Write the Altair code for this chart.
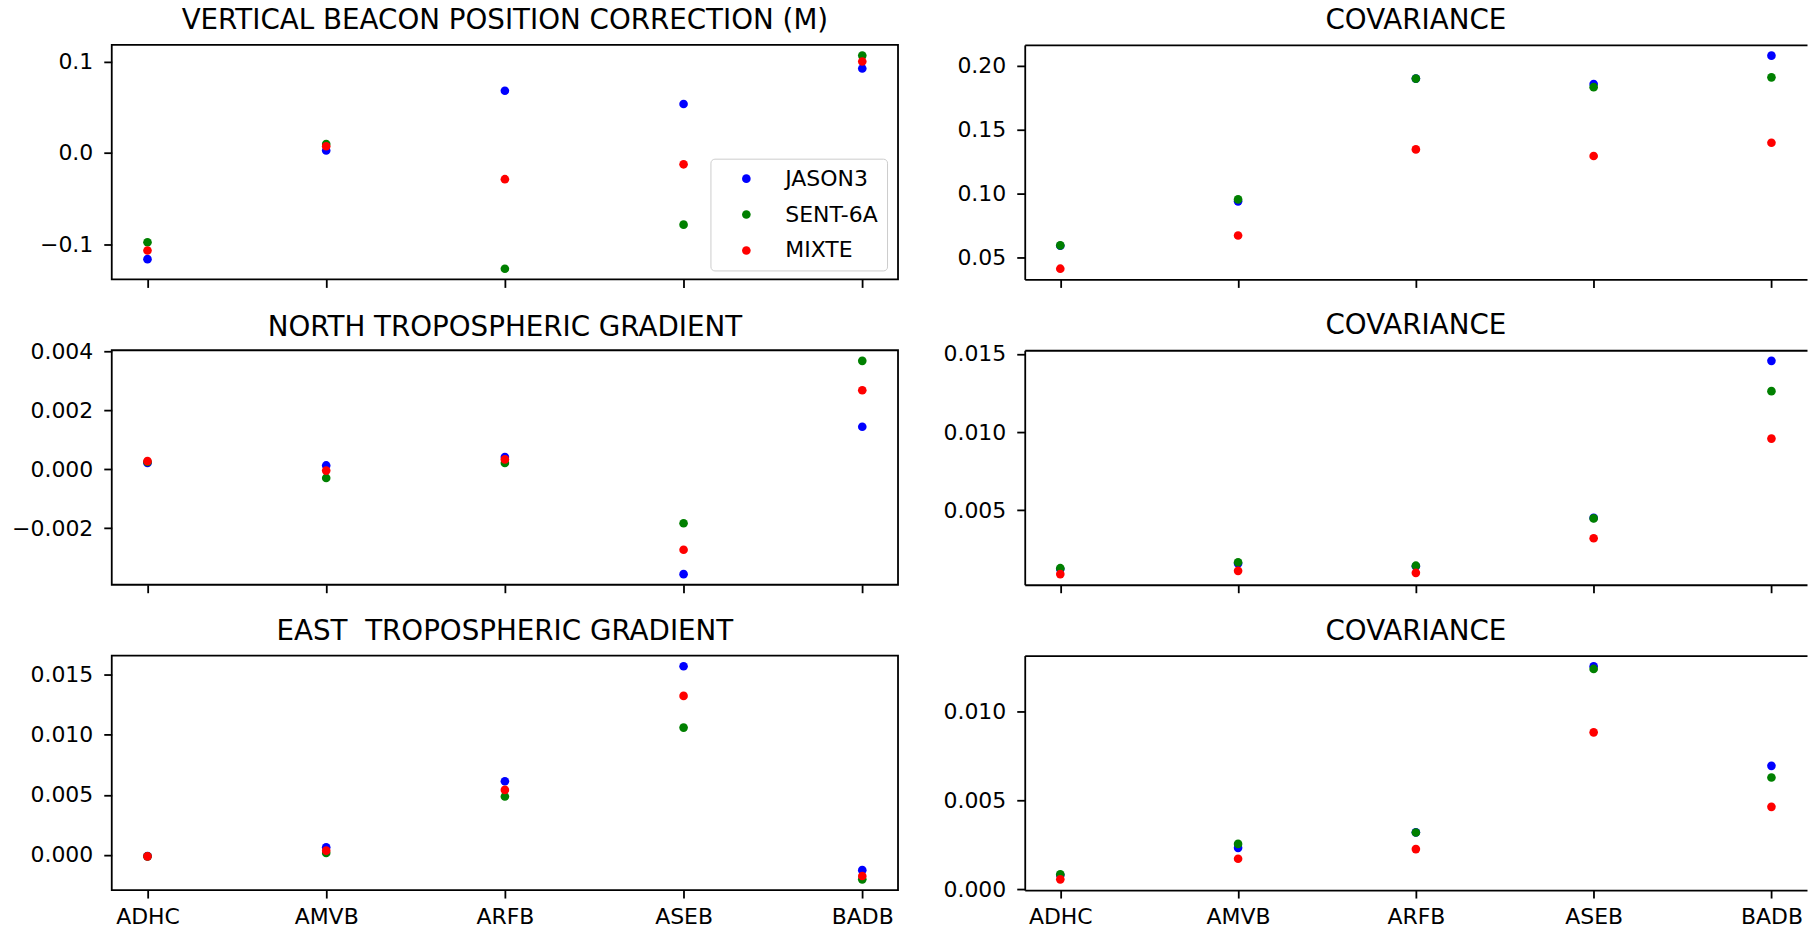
import altair as alt
import pandas as pd

FONT = "DejaVu Sans"

stations = ["ADHC", "AMVB", "ARFB", "ASEB", "BADB"]
series = ["JASON3", "SENT-6A", "MIXTE"]
colors = ["#0000ff", "#008000", "#ff0000"]

titles = [
    "VERTICAL BEACON POSITION CORRECTION (M)",
    "COVARIANCE",
    "NORTH TROPOSPHERIC GRADIENT",
    "COVARIANCE",
    "EAST\u00a0 TROPOSPHERIC GRADIENT",
    "COVARIANCE",
]

# panel 1: vertical beacon position correction
vert_jason3 = [-0.1165, 0.0025, 0.068, 0.0535, 0.0924]
vert_sent6a = [-0.098, 0.0097, -0.127, -0.0787, 0.1065]
vert_mixte = [-0.107, 0.0072, -0.0289, -0.0126, 0.100]
# panel 2: covariance of vertical
vcov_jason3 = [0.059, 0.0938, 0.190, 0.1858, 0.208]
vcov_sent6a = [0.0593, 0.0953, 0.190, 0.1833, 0.191]
vcov_mixte = [0.041, 0.067, 0.1345, 0.1293, 0.1397]
# panel 3: north tropospheric gradient
north_jason3 = [0.00022, 0.000135, 0.00042, -0.00356, 0.00145]
north_sent6a = [0.00025, -0.00029, 0.00022, -0.00183, 0.00369]
north_mixte = [0.00028, -0.00004, 0.00034, -0.00273, 0.00269]
# panel 4: covariance of north gradient
ncov_jason3 = [0.00122, 0.00158, 0.0014, 0.0045, 0.01456]
ncov_sent6a = [0.00128, 0.00166, 0.00144, 0.00447, 0.01262]
ncov_mixte = [0.00090, 0.00111, 0.00098, 0.0032, 0.00958]
# panel 5: east tropospheric gradient
east_jason3 = [-0.0001, 0.00063, 0.00613, 0.01571, -0.00127]
east_sent6a = [-0.00012, 0.00016, 0.00486, 0.0106, -0.00204]
east_mixte = [-0.00012, 0.00035, 0.00541, 0.01324, -0.00176]
# panel 6: covariance of east gradient
ecov_jason3 = [0.0008, 0.00233, 0.0032, 0.01252, 0.00693]
ecov_sent6a = [0.00085, 0.00255, 0.00319, 0.01237, 0.00628]
ecov_mixte = [0.00056, 0.00172, 0.00226, 0.00881, 0.00463]

panel_series = [
    [vert_jason3, vert_sent6a, vert_mixte],
    [vcov_jason3, vcov_sent6a, vcov_mixte],
    [north_jason3, north_sent6a, north_mixte],
    [ncov_jason3, ncov_sent6a, ncov_mixte],
    [east_jason3, east_sent6a, east_mixte],
    [ecov_jason3, ecov_sent6a, ecov_mixte],
]

y_domains = [
    [-0.1387, 0.1182],
    [0.0326, 0.2164],
    [-0.00392, 0.00405],
    [0.00022, 0.01524],
    [-0.00293, 0.0166],
    [-0.00004, 0.01312],
]
y_ticks = [
    [-0.1, 0.0, 0.1],
    [0.05, 0.10, 0.15, 0.20],
    [-0.002, 0.000, 0.002, 0.004],
    [0.005, 0.010, 0.015],
    [0.000, 0.005, 0.010, 0.015],
    [0.000, 0.005, 0.010],
]
y_formats = [".1f", ".2f", ".3f", ".3f", ".3f", ".3f"]

# title offsets compensate for tick labels that overhang the top of a panel
title_offsets = [-12, -12, -23, -19, -12, -12]

W1 = 788
W2 = 784
H = 235
LINE = 1.8


def panel_df(vals):
    rows = []
    for s, arr in zip(series, vals):
        for st, v in zip(stations, arr):
            rows.append({"station": st, "series": s, "value": v})
    return pd.DataFrame(rows)


def make_panel(i):
    right = i % 2 == 1
    bottom = i >= 4
    df = panel_df(panel_series[i])
    xscale = alt.Scale(type="point", padding=0.2)
    x_axis = alt.Axis(
        orient="bottom", title=None, labels=bottom, labelAngle=0,
        ticks=True, tickSize=8, tickWidth=LINE, tickColor="black",
        domain=right, domainColor="black", domainWidth=LINE,
        labelFontSize=22, labelColor="black", labelFont=FONT,
        labelPadding=9, grid=False,
    )
    y_axis = alt.Axis(
        orient="left", title=None, values=y_ticks[i], format=y_formats[i],
        ticks=True, tickSize=8, tickWidth=LINE, tickColor="black",
        domain=right, domainColor="black", domainWidth=LINE,
        labelFontSize=22, labelColor="black", labelFont=FONT,
        labelPadding=11, grid=False,
    )
    if i == 0:
        legend = alt.Legend(
            title=None, orient="none", legendX=600, legendY=114,
            padding=9, rowPadding=14, symbolOffset=16, labelOffset=28,
            labelFontSize=22, labelFont=FONT, labelColor="black",
            symbolSize=75, symbolType="circle",
            strokeColor="#cccccc", fillColor="rgba(255,255,255,0.8)",
            cornerRadius=4, labelLimit=400,
        )
    else:
        legend = None
    color = alt.Color(
        "series:N",
        scale=alt.Scale(domain=series, range=colors),
        sort=series,
        legend=legend,
    )
    points = alt.Chart(df).mark_circle(size=75, opacity=1).encode(
        x=alt.X("station:N", sort=stations, scale=xscale, axis=x_axis),
        y=alt.Y("value:Q", scale=alt.Scale(domain=y_domains[i], nice=False, zero=False), axis=y_axis),
        color=color,
    )
    title = alt.TitleParams(
        text=titles[i], fontSize=27.8, font=FONT, fontWeight="normal",
        color="black", anchor="middle", frame="group", offset=title_offsets[i],
        baseline="alphabetic",
    )
    if right:
        top = alt.Chart(df).mark_point(opacity=0).encode(
            x=alt.X(
                "station:N", sort=stations, scale=xscale,
                axis=alt.Axis(orient="top", title=None, labels=False, ticks=False,
                              domain=True, domainColor="black", domainWidth=LINE, grid=False),
            ),
        )
        ch = alt.layer(points, top).properties(
            width=W2, height=H, title=title,
            view=alt.ViewBackground(stroke="transparent"),
        )
    else:
        ch = points.properties(width=W1, height=H, title=title)
    return ch


panels = [make_panel(i) for i in range(6)]

chart = alt.concat(
    *panels, columns=2, spacing={"row": 22, "column": 43}, align="each"
).resolve_scale(color="independent").properties(
    padding={"left": 10, "top": 5, "right": 0, "bottom": 0},
    background="white",
).configure(font=FONT).configure_view(stroke="black", strokeWidth=LINE)

chart.save("out.html", embed_options={"renderer": "svg", "actions": False})
